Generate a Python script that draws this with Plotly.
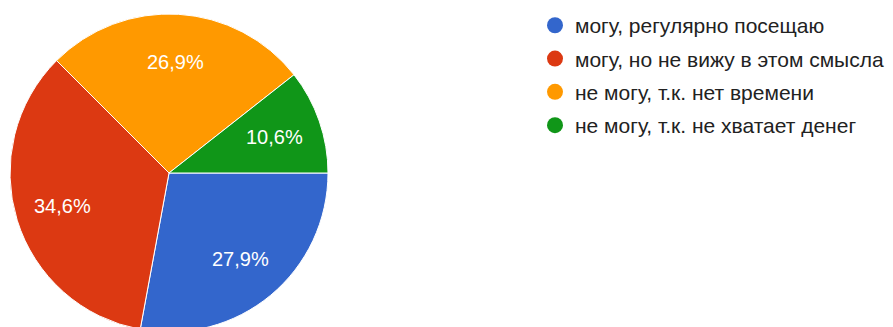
import math
import plotly.graph_objects as go

# Survey answers and their shares (percent)
labels = [
    "могу, регулярно посещаю",
    "могу, но не вижу в этом смысла",
    "не могу, т.к. нет времени",
    "не могу, т.к. не хватает денег",
]
shares = [27.9, 34.6, 26.9, 10.6]
colors = ["#3366CC", "#DC3912", "#FF9900", "#109618"]
pct_text = [f"{v:.1f}%".replace(".", ",") for v in shares]

W, H = 893, 340
M_T, M_B = 14, 8
PLOT_H = H - M_T - M_B
PIE_X = (10 / W, 328 / W)
START_ANGLE = 90          # first slice starts at 3 o'clock
LABEL_RADIUS = 0.70       # label distance as a fraction of the pie radius
FONT = "Liberation Sans, Arial, sans-serif"

fig = go.Figure()

fig.add_trace(go.Pie(
    labels=labels,
    values=shares,
    textinfo="none",
    marker=dict(colors=colors, line=dict(color="white", width=1)),
    sort=False,
    direction="clockwise",
    rotation=START_ANGLE,
    showlegend=False,
    domain=dict(x=list(PIE_X), y=[0, 1]),
    hoverinfo="label+percent",
))

# Percentage labels placed along each slice's bisector
radius_px = min((PIE_X[1] - PIE_X[0]) * W, PLOT_H) / 2
cx = (PIE_X[0] + PIE_X[1]) / 2
total = sum(shares)
cum = 0.0
for v, t in zip(shares, pct_text):
    mid = math.radians(START_ANGLE + (cum + v / 2) / total * 360)
    cum += v
    r = LABEL_RADIUS * radius_px
    fig.add_annotation(
        x=cx + r * math.sin(mid) / W,
        y=0.5 + r * math.cos(mid) / PLOT_H,
        xref="paper", yref="paper",
        xanchor="center", yanchor="middle",
        text=t, showarrow=False,
        font=dict(family=FONT, size=20, color="white"),
    )

# Legend entries with round markers
for i, (lab, col) in enumerate(zip(labels, colors)):
    fig.add_trace(go.Scatter(
        x=[None], y=[None], mode="markers", name=lab,
        legendgroup=f"g{i}",
        marker=dict(color=col, size=16, symbol="circle"),
        showlegend=True,
    ))

fig.update_layout(
    width=W,
    height=H,
    margin=dict(l=0, r=0, t=M_T, b=M_B),
    paper_bgcolor="white",
    plot_bgcolor="white",
    xaxis=dict(visible=False),
    yaxis=dict(visible=False),
    legend=dict(
        x=535 / W, xanchor="left",
        y=1.028, yanchor="top",
        font=dict(family=FONT, size=21, color="#222222"),
        bgcolor="rgba(0,0,0,0)",
        tracegroupgap=3,
        itemclick=False,
    ),
)

fig.write_html(
    "out.html",
    post_script="document.body.style.margin='0';document.body.style.overflow='hidden';document.documentElement.style.overflow='hidden';",
)
